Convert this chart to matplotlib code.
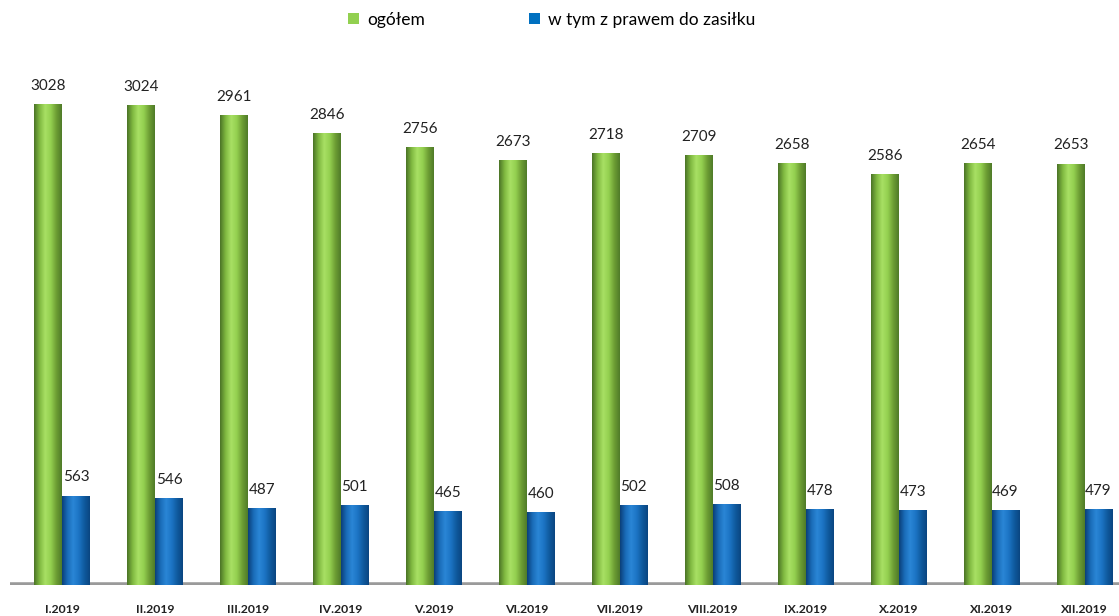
import numpy as np
import matplotlib
matplotlib.use("Agg")
import matplotlib.pyplot as plt
from matplotlib.colors import LinearSegmentedColormap
from matplotlib.patches import Patch

months = ["I.2019", "II.2019", "III.2019", "IV.2019", "V.2019", "VI.2019",
          "VII.2019", "VIII.2019", "IX.2019", "X.2019", "XI.2019", "XII.2019"]
ogolem = [3028, 3024, 2961, 2846, 2756, 2673, 2718, 2709, 2658, 2586, 2654, 2653]
zasilek = [563, 546, 487, 501, 465, 460, 502, 508, 478, 473, 469, 479]

plt.rcParams["font.family"] = ["Lato", "DejaVu Sans"]

fig = plt.figure(figsize=(11.19, 6.16), dpi=100)
ax = fig.add_axes([10/1119, 31/616, 1109/1119, 556/616])

x = np.arange(len(months))
w = 0.30
green_cmap = LinearSegmentedColormap.from_list("g", ["#4a7326", "#7fb840", "#a8e064", "#94d050", "#6d9e34", "#4f7a28"])
blue_cmap = LinearSegmentedColormap.from_list("b", ["#0a3f78", "#1a6cb8", "#2a86d6", "#1c74c4", "#0f5a9e", "#0a4580"])

b1 = ax.bar(x - w/2, ogolem, w, color="#92d050", zorder=2)
b2 = ax.bar(x + w/2, zasilek, w, color="#0070c0", zorder=2)

grad = np.linspace(0, 1, 256).reshape(1, -1)
for bars, cmap in ((b1, green_cmap), (b2, blue_cmap)):
    for r in bars:
        x0, y0 = r.get_x(), r.get_y()
        im = ax.imshow(grad, cmap=cmap, aspect="auto",
                       extent=(x0, x0 + r.get_width(), y0, y0 + r.get_height()),
                       zorder=3)
        im.set_clip_path(r)

for xi, v in zip(x, ogolem):
    ax.annotate(str(v), (xi - w/2, v), xytext=(0, 8), textcoords="offset points",
                ha="center", va="bottom", fontsize=11, color="#222222")
for xi, v in zip(x, zasilek):
    ax.annotate(str(v), (xi + w/2, v), xytext=(0, 8), textcoords="offset points",
                ha="center", va="bottom", fontsize=11, color="#222222")

ax.axhline(0, color="#9a9a9a", lw=4, zorder=1)

ax.set_xlim(-0.56, 11.37)
ax.set_ylim(0, 3500)
ax.set_yticks([])
ax.set_xticks(x)
ax.set_xticklabels(months, fontsize=8.8, fontweight="bold", color="#222222")
ax.tick_params(axis="x", length=0, pad=14)
for s in ax.spines.values():
    s.set_visible(False)

handles = [Patch(facecolor="#92d050", label="ogółem"),
           Patch(facecolor="#0070c0", label="w tym z prawem do zasiłku")]
fig.legend(handles=handles, loc="center", bbox_to_anchor=(552/1119, 1 - 20/616),
           ncol=2, frameon=False, fontsize=12.5, handlelength=0.6, handleheight=0.6,
           handletextpad=0.5, columnspacing=6)

fig.savefig("out.png", dpi=100)
